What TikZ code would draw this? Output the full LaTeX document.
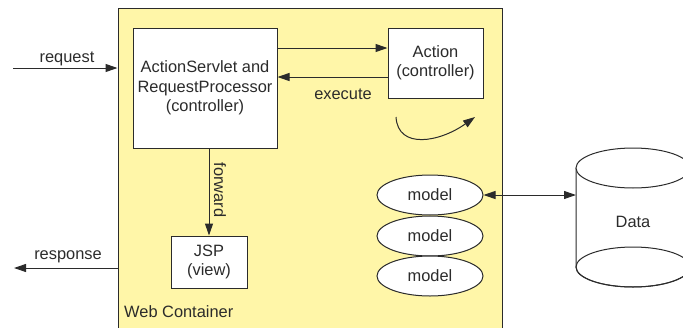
\documentclass[tikz,border=0pt]{standalone}
\usepackage{fontspec}
\setmainfont{Liberation Sans}
\usetikzlibrary{arrows.meta,shapes.geometric}
\definecolor{contfill}{HTML}{FFF6A8}
\definecolor{ink}{HTML}{2B2B2B}
\tikzset{
  every node/.style={text=ink, font=\fontsize{16.4}{19.5}\selectfont},
  line/.style={draw=ink, line width=1pt},
  arr/.style={line, -{Triangle[length=12pt,width=8pt]}},
  darr/.style={line, {Triangle[length=12pt,width=8pt]}-{Triangle[length=12pt,width=8pt]}},
  box/.style={line, fill=white, rectangle, align=center, inner sep=0pt},
  modelshape/.style={line, fill=white, ellipse, inner sep=0pt, minimum width=106pt, minimum height=40pt},
  lbl/.style={inner sep=0pt}
}
\begin{document}
\begin{tikzpicture}[x=1pt,y=-1pt]
\clip (0,0) rectangle (683,327);

% web container (its lower edge runs off the page)
\node[line, fill=contfill, rectangle, minimum width=384pt, minimum height=332pt, inner sep=0pt] (web) at (310,174) {};
\node[lbl, anchor=west] (webl) at (124,312) {Web Container};

% controllers and view
\node[box, minimum width=144pt, minimum height=120pt] (servlet) at (205,88)
  {ActionServlet and\\RequestProcessor\\(controller)};
\node[box, minimum width=95pt, minimum height=70pt] (action) at (435.5,63)
  {Action\\(controller)};
\node[box, minimum width=76pt, minimum height=52pt] (jsp) at (209,262)
  {JSP\\(view)};

% model objects
\node[modelshape] (m1) at (430,195) {model};
\node[modelshape] (m2) at (430,236) {model};
\node[modelshape] (m3) at (430,276) {model};

% data store cylinder
\fill[white] (576,168) rectangle (690,267);
\draw[line, fill=white] (576,168) -- (576,267) arc[start angle=180, end angle=360, x radius=57, y radius=-20] -- (690,168);
\draw[line] (633,267) ellipse[x radius=57, y radius=20];
\draw[line, fill=white] (633,168) ellipse[x radius=57, y radius=20];
\node[lbl] (data) at (633,222) {Data};
\coordinate (dataw) at (576,195);

% request / response
\coordinate (reqs) at (13,68);
\coordinate (resE) at (14,268);
\draw[arr] (reqs) -- (reqs -| web.west);
\node[lbl] (reql) at (67,59) {request};
\draw[arr] (resE -| web.west) -- (resE);
\node[lbl] (resl) at (68,257) {response};

% servlet <-> action
\draw[arr] (servlet.east |- 0,48) -- (action.west |- 0,48);
\draw[arr] (action.west |- 0,77) -- (servlet.east |- 0,77);
\node[lbl] (exl) at (343,94) {execute};

% action processing
\coordinate (c1) at (396,117);
\coordinate (c2) at (475,117);
\draw[arr] (c1) .. controls (398,150) and (440,142) .. (c2);

% forward
\draw[arr] (servlet.south -| jsp.north) -- (jsp.north);
\node[lbl, rotate=-90] (fwl) at (220,190) {forward};

% model <-> data
\draw[darr] (m1.east) -- (dataw);
\end{tikzpicture}
\end{document}
